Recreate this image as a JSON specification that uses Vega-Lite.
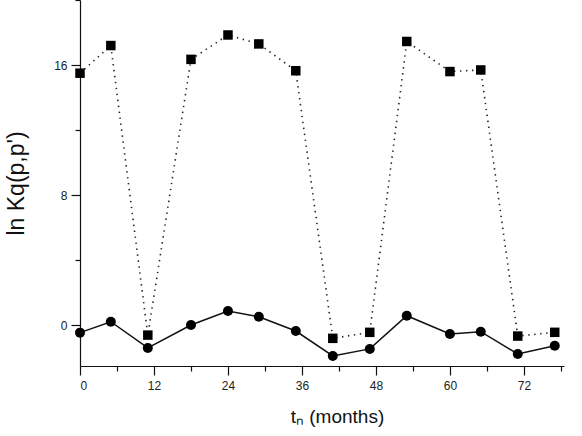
{
  "$schema": "https://vega.github.io/schema/vega-lite/v6.json",
  "width": 484,
  "height": 366,
  "autosize": "none",
  "padding": {"left": 80, "top": 0, "right": 18, "bottom": 70},
  "background": "white",
  "config": {
    "view": {"stroke": null},
    "font": "Liberation Sans",
    "axis": {
      "grid": false,
      "domainColor": "#111",
      "domainWidth": 1.2,
      "tickColor": "#111",
      "tickWidth": 1.2,
      "labelFont": "Liberation Sans",
      "labelFontSize": 12,
      "labelColor": "#222",
      "titleFont": "Liberation Sans",
      "titleFontWeight": "normal",
      "titleColor": "#111"
    }
  },
  "data": {
    "values": [
      {"t": 0, "v": 15.5, "series": "sq"},
      {"t": 5, "v": 17.2, "series": "sq"},
      {"t": 11, "v": -0.6, "series": "sq"},
      {"t": 18, "v": 16.35, "series": "sq"},
      {"t": 24, "v": 17.85, "series": "sq"},
      {"t": 29, "v": 17.3, "series": "sq"},
      {"t": 35, "v": 15.65, "series": "sq"},
      {"t": 41, "v": -0.8, "series": "sq"},
      {"t": 47, "v": -0.43, "series": "sq"},
      {"t": 53, "v": 17.45, "series": "sq"},
      {"t": 60, "v": 15.6, "series": "sq"},
      {"t": 65, "v": 15.7, "series": "sq"},
      {"t": 71, "v": -0.66, "series": "sq"},
      {"t": 77, "v": -0.43, "series": "sq"},
      {"t": 0, "v": -0.45, "series": "ci"},
      {"t": 5, "v": 0.22, "series": "ci"},
      {"t": 11, "v": -1.39, "series": "ci"},
      {"t": 18, "v": 0.02, "series": "ci"},
      {"t": 24, "v": 0.88, "series": "ci"},
      {"t": 29, "v": 0.53, "series": "ci"},
      {"t": 35, "v": -0.35, "series": "ci"},
      {"t": 41, "v": -1.88, "series": "ci"},
      {"t": 47, "v": -1.45, "series": "ci"},
      {"t": 53, "v": 0.59, "series": "ci"},
      {"t": 60, "v": -0.53, "series": "ci"},
      {"t": 65, "v": -0.39, "series": "ci"},
      {"t": 71, "v": -1.76, "series": "ci"},
      {"t": 77, "v": -1.25, "series": "ci"}
    ]
  },
  "encoding": {
    "x": {
      "field": "t",
      "type": "quantitative",
      "scale": {"domain": [0, 78.5], "nice": false, "zero": false},
      "axis": {
        "title": "tₙ (months)",
        "titleFontSize": 19,
        "titleX": 257,
        "titlePadding": 16,
        "values": [0, 6, 12, 18, 24, 30, 36, 42, 48, 54, 60, 66, 72, 78],
        "labelExpr": "datum.value % 12 === 0 ? datum.label : ''",
        "tickSize": {"condition": {"test": "datum.value % 12 === 0", "value": 9}, "value": 5},
        "labelPadding": 5
      }
    },
    "y": {
      "field": "v",
      "type": "quantitative",
      "scale": {"domain": [-2.5, 20], "nice": false, "zero": false},
      "axis": {
        "title": "ln Kq(p,p')",
        "titleFontSize": 23,
        "titlePadding": 25,
        "values": [0, 4, 8, 12, 16, 20],
        "labelExpr": "datum.value % 8 === 0 ? datum.label : ''",
        "tickSize": {"condition": {"test": "datum.value % 8 === 0", "value": 9}, "value": 5},
        "labelPadding": 4
      }
    }
  },
  "layer": [
    {
      "transform": [{"filter": "datum.series === 'sq'"}],
      "mark": {"type": "line", "color": "#222", "strokeWidth": 1.6, "strokeDash": [1.4, 4.6]}
    },
    {
      "transform": [{"filter": "datum.series === 'sq'"}],
      "mark": {"type": "point", "shape": "square", "filled": true, "color": "#000", "opacity": 1, "size": 90}
    },
    {
      "transform": [{"filter": "datum.series === 'ci'"}],
      "mark": {"type": "line", "color": "#111", "strokeWidth": 1.5}
    },
    {
      "transform": [{"filter": "datum.series === 'ci'"}],
      "mark": {"type": "point", "shape": "circle", "filled": true, "color": "#000", "opacity": 1, "size": 100}
    }
  ]
}
